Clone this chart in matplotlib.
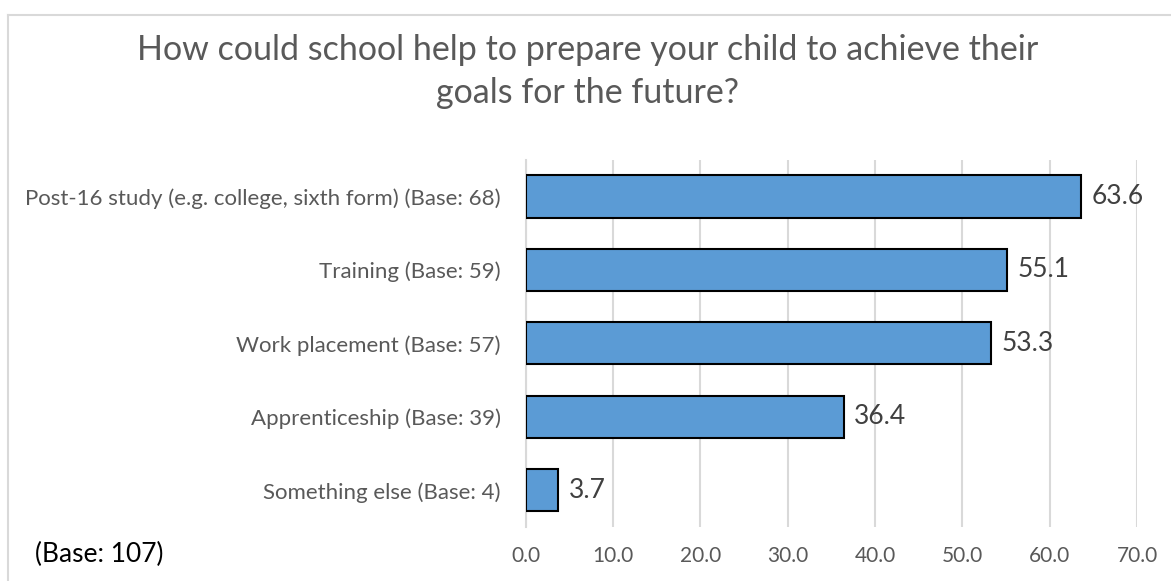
import numpy as np
from matplotlib import pyplot as plt
from matplotlib.lines import Line2D

# chart data (top to bottom)
labels = ["Post-16 study (e.g. college, sixth form) (Base: 68)",
          "Training (Base: 59)",
          "Work placement (Base: 57)",
          "Apprenticeship (Base: 39)",
          "Something else (Base: 4)"]
values = [63.6, 55.1, 53.3, 36.4, 3.7]
xticks = [0, 10, 20, 30, 40, 50, 60, 70]

plt.rcParams['font.family'] = ['Lato', 'DejaVu Sans']

fig = plt.figure(figsize=(11.71, 5.81), dpi=100)
ax = fig.add_axes([0.449, 0.093, 0.522, 0.632])

y = np.arange(len(labels))
ax.barh(y, values, height=0.575, color="#5B9BD5", edgecolor="black", linewidth=1.5, zorder=3)

# value labels next to the bars
for yi, v in zip(y, values):
    ax.text(v + 1.2, yi, f"{v:.1f}", va="center", ha="left", fontsize=19, color="#404040")

ax.set_ylim(len(labels) - 0.5, -0.5)
ax.set_xlim(0, 70)
ax.set_yticks(y)
ax.set_yticklabels(labels, fontsize=16, color="#595959")
ax.set_xticks(xticks)
ax.set_xticklabels([f"{t:.1f}" for t in xticks], fontsize=15, color="#595959")
ax.tick_params(axis="both", length=0)
ax.tick_params(axis="x", pad=14)
ax.tick_params(axis="y", pad=18)

ax.grid(axis="x", color="#D9D9D9", linewidth=1.5, zorder=0)
for s in ["top", "right", "bottom"]:
    ax.spines[s].set_visible(False)
ax.spines["left"].set_color("#D9D9D9")
ax.spines["left"].set_linewidth(1.5)

fig.text(0.502, 0.877, "How could school help to prepare your child to achieve their\ngoals for the future?",
         ha="center", va="center", fontsize=24.5, color="#595959", linespacing=1.4)
fig.text(0.03, 0.045, "(Base: 107)", ha="left", va="center", fontsize=19, color="black")

# light frame (top and left edges only)
fig.add_artist(Line2D([0.007, 1.0], [0.974, 0.974], color="#D9D9D9", linewidth=1.5, transform=fig.transFigure))
fig.add_artist(Line2D([0.007, 0.007], [0.0, 0.974], color="#D9D9D9", linewidth=1.5, transform=fig.transFigure))

fig.savefig("out.png", dpi=100)
